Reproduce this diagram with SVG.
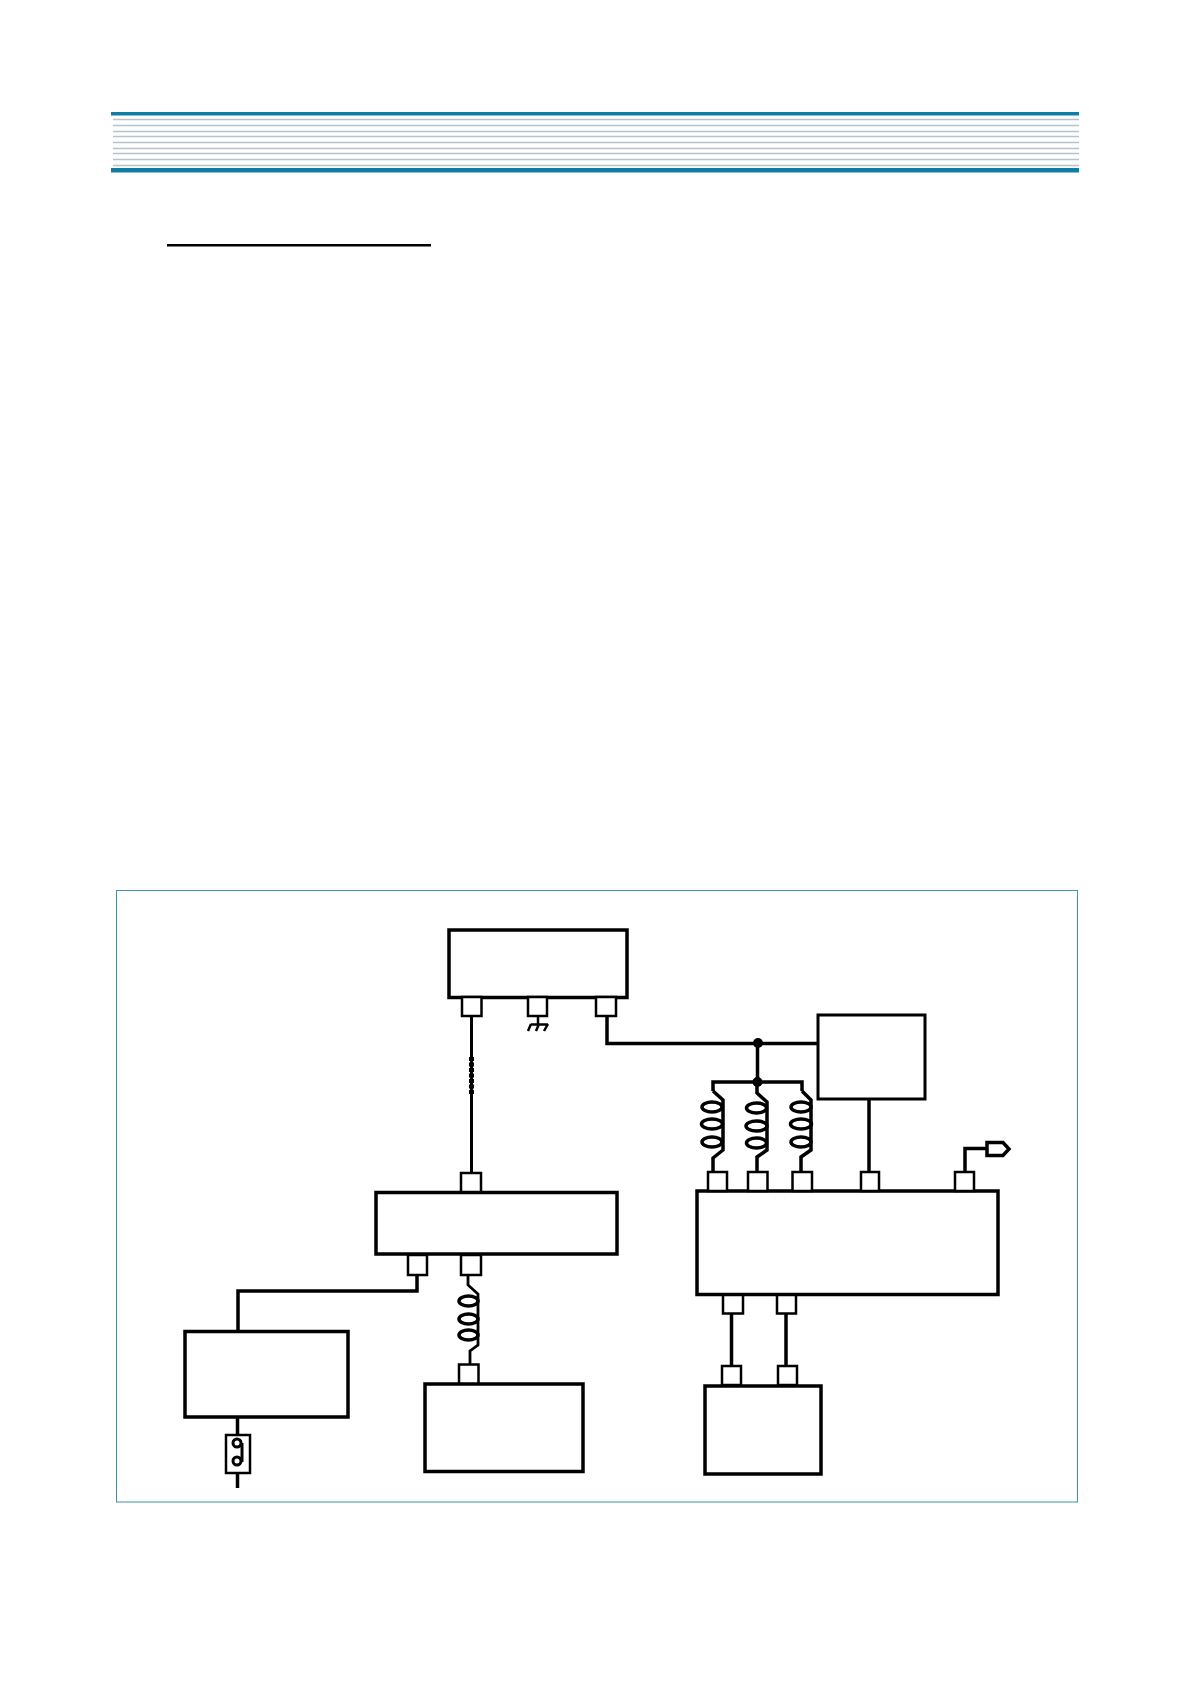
<svg xmlns="http://www.w3.org/2000/svg" width="1190" height="1684" viewBox="0 0 1190 1684">
<style>
.box{fill:#fff;stroke:#000;stroke-width:3.5}
.thin{stroke-width:3}
.port{fill:#fff;stroke:#000;stroke-width:2.5}
.w{fill:none;stroke:#000;stroke-width:3.5;stroke-linejoin:miter}
.coil{fill:none;stroke:#000;stroke-width:3.5}
.rule{stroke:#b4c4ca;stroke-width:1.3}
.bar{fill:#0e7ea3}
</style>
<rect width="1190" height="1684" fill="#fff"/>
<g id="header">
<rect class="bar" x="111" y="112" width="968" height="3.500"/>
<g id="rules">
<line class="rule" x1="113" x2="1079" y1="119.5" y2="119.5"/>
<line class="rule" x1="113" x2="1079" y1="125.5" y2="125.5"/>
<line class="rule" x1="113" x2="1079" y1="131.5" y2="131.5"/>
<line class="rule" x1="113" x2="1079" y1="136.5" y2="136.5"/>
<line class="rule" x1="113" x2="1079" y1="142.5" y2="142.5"/>
<line class="rule" x1="113" x2="1079" y1="148.5" y2="148.5"/>
<line class="rule" x1="113" x2="1079" y1="153.5" y2="153.5"/>
<line class="rule" x1="113" x2="1079" y1="159.5" y2="159.5"/>
<line class="rule" x1="113" x2="1079" y1="165.5" y2="165.5"/>
</g>
<rect class="bar" x="111" y="168" width="968" height="4.500"/>
<rect x="167" y="244" width="264" height="2.500" fill="#000"/>
</g>
<rect id="frame" x="116.5" y="890.5" width="961" height="611.500" fill="none" stroke="#3d93ad" stroke-width="1"/>
<g id="connectors">
<path class="w" d="M471.500 1016V1172" style="stroke-width:3"/>
<path d="M471.500 1057V1095" fill="none" stroke="#000" stroke-width="5" stroke-dasharray="4 1.500"/>
<path class="w" d="M607 1016V1043.500H818"/>
<path class="w" d="M538 1016V1024M531 1024.500H548M531 1024L528 1031M539 1024L536 1031M548 1024L544 1031" style="stroke-width:2.500"/>
<path class="w" d="M757.500 1043V1082M713 1091V1082H802V1091"/>
<path class="w" d="M713 1091L723 1100V1150L713 1158V1172"/>
<path class="w" d="M757 1082V1093L767 1102V1150L757 1157V1172"/>
<path class="w" d="M802 1091L811 1100V1150L801 1157V1172"/>
<path class="w" d="M869 1099V1172"/>
<path class="w" d="M965 1172V1148.500H987"/>
<path class="w" d="M731.500 1313V1366M786 1313V1366"/>
<path class="w" d="M417 1275V1291H238V1331"/>
<path class="w" d="M468 1275V1285L478 1294V1345L470 1351V1364" style="stroke-width:2.800"/>
<path class="w" d="M237.500 1417V1435M237.500 1473V1488"/>
</g>
<g id="coils">
<ellipse class="coil" cx="712" cy="1107" rx="10" ry="5"/><ellipse class="coil" cx="712" cy="1124" rx="10.500" ry="5"/><ellipse class="coil" cx="712" cy="1142" rx="10" ry="5"/>
<ellipse class="coil" cx="756.500" cy="1108" rx="10" ry="5"/><ellipse class="coil" cx="756.500" cy="1126" rx="10.500" ry="5"/><ellipse class="coil" cx="756.500" cy="1143" rx="10" ry="5"/>
<ellipse class="coil" cx="801" cy="1107" rx="10" ry="5"/><ellipse class="coil" cx="801" cy="1124" rx="10.500" ry="5"/><ellipse class="coil" cx="801" cy="1142" rx="10" ry="5"/>
<ellipse class="coil" cx="468.500" cy="1301" rx="9.500" ry="5"/><ellipse class="coil" cx="468.500" cy="1319" rx="9.500" ry="5"/><ellipse class="coil" cx="468.500" cy="1335" rx="9.500" ry="5"/>
<circle cx="758" cy="1043" r="5"/><circle cx="757.500" cy="1082" r="5"/>
</g>
<g id="node-top">
<rect class="box" x="449" y="930" width="178" height="67.500"/>
<rect class="port" x="462" y="997" width="19.500" height="19" stroke-width="3"/>
<rect class="port" x="528" y="997" width="19" height="19"/>
<rect class="port" x="596" y="997" width="20" height="19" stroke-width="3"/>
</g>
<g id="node-right-small">
<rect class="box thin" x="818" y="1015" width="107" height="84"/>
</g>
<g id="node-main">
<rect class="box" x="697" y="1191" width="301" height="103.500"/>
<rect class="port" x="708" y="1172" width="19" height="19"/>
<rect class="port" x="748" y="1172" width="19.500" height="19"/>
<rect class="port" x="792.500" y="1172" width="19.500" height="19"/>
<rect class="port" x="861" y="1172" width="18" height="19"/>
<rect class="port" x="955" y="1172" width="19" height="19"/>
<rect class="port" x="723" y="1295" width="20" height="18.500"/>
<rect class="port" x="777" y="1295" width="19" height="18.500"/>
</g>
<g id="node-terminal">
<path d="M987 1142.500H1003L1009 1149L1003 1155.500H987Z" fill="#fff" stroke="#000" stroke-width="3.500"/>
</g>
<g id="node-middle">
<rect class="box" x="376" y="1192.500" width="241" height="61.500"/>
<rect class="port" x="461" y="1173" width="20" height="19"/>
<rect class="port" x="408" y="1255" width="19" height="20"/>
<rect class="port" x="461" y="1255" width="20" height="20"/>
</g>
<g id="node-left">
<rect class="box" x="185" y="1331.500" width="163" height="85.500"/>
</g>
<g id="node-fuse">
<rect class="port" x="226" y="1435" width="24" height="38"/>
<path class="w" d="M242 1443V1462" style="stroke-width:3"/>
<circle cx="237" cy="1443" r="4" fill="#fff" stroke="#000" stroke-width="3"/>
<circle cx="237" cy="1461" r="4" fill="#fff" stroke="#000" stroke-width="3"/>
</g>
<g id="node-center-bottom">
<rect class="box" x="425" y="1384" width="158" height="87.500"/>
<rect class="port" x="459" y="1364.500" width="19.500" height="19" stroke-width="3"/>
</g>
<g id="node-right-bottom">
<rect class="box" x="705" y="1386" width="116" height="88"/>
<rect class="port" x="722" y="1366" width="19" height="19"/>
<rect class="port" x="778" y="1366" width="19" height="19"/>
</g>
</svg>
